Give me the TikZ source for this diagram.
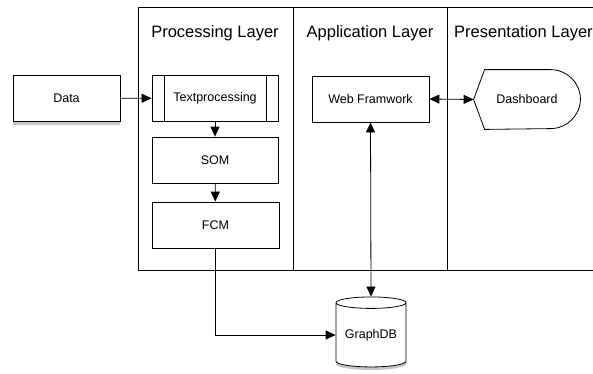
\documentclass[tikz,border=0pt]{standalone}
\usepackage{fontspec}
\setmainfont{Liberation Sans}
\usetikzlibrary{arrows.meta,shapes.geometric,shadows}
\begin{document}
\begin{tikzpicture}[x=1pt,y=-1pt,
    box/.style ={rectangle, draw, line width=0.8pt, inner sep=0pt,
                 minimum height=46pt, font=\fontsize{12.5}{15}\selectfont},
    layertitle/.style ={inner sep=0pt, font=\fontsize{16.5}{20}\selectfont},
    flow/.style ={line width=0.8pt, -{Triangle[length=10pt,width=9pt]}},
    twoway/.style ={line width=0.8pt, {Triangle[length=10pt,width=9pt]}-{Triangle[length=10pt,width=9pt]}},
    shade/.style ={drop shadow={opacity=0.45, fill=gray, shadow xshift=0pt, shadow yshift=-3pt}}]
   \useasboundingbox (0,0) rectangle (593,373);
   \clip (0,0) rectangle (593,373);

   % layers
   \draw[line width=0.8pt] (138,7) rectangle (620,270);
   \draw[line width=0.8pt] (293,7) -- (293,270);
   \draw[line width=1.4pt] (447.5,7) -- (447.5,270);
   \node[layertitle] (proc) at (215,33)  {Processing Layer};
   \node[layertitle] (app)  at (370,33)  {Application Layer};
   \node[layertitle, anchor=west] (pres) at (454,33) {Presentation Layer};

   \node[box, fill=white, shade, minimum width=107pt] (data) at (66.5,98.5) {Data};
   \node[box, minimum width=126pt] (tp)  at (215,98)    {Textprocessing};
   \node[box, minimum width=126pt] (som) at (215,160)   {SOM};
   \node[box, minimum width=127pt] (fcm) at (215.5,225) {FCM};
   \node[box, minimum width=117pt] (web) at (370.5,99)  {Web Framwork};
   \node[box, draw=none, minimum width=106pt, minimum height=59pt] (dash) at (527,99.5) {Dashboard};
   \node[cylinder, shape border rotate=90, aspect=0.22, draw, fill=white, shade,
         line width=0.8pt, minimum width=70pt, minimum height=70pt, inner sep=0pt,
         font=\fontsize{12.5}{15}\selectfont] (db) at (371,335) {GraphDB};

   \draw[line width=0.8pt] ([xshift=13pt]tp.north west) -- ([xshift=13pt]tp.south west);
   \draw[line width=0.8pt] ([xshift=-12pt]tp.north east) -- ([xshift=-12pt]tp.south east);
   \draw[line width=0.8pt] (dash.west) -- ([xshift=11pt]dash.north west) -- ([xshift=-30pt]dash.north east)
      arc[start angle=90, end angle=-90, x radius=30pt, y radius=29.5pt]
      -- ([xshift=11pt]dash.south west) -- cycle;

   \draw[flow] (data) to (tp);
   \draw[flow] (tp) to (som);
   \draw[flow] (som) to (fcm);
   \draw[flow] (fcm.south) |- (db.west);
   \draw[twoway] (web.east) to (dash.west);
   \draw[twoway] (web.south) to (db.north);
 \end{tikzpicture}
\end{document}
